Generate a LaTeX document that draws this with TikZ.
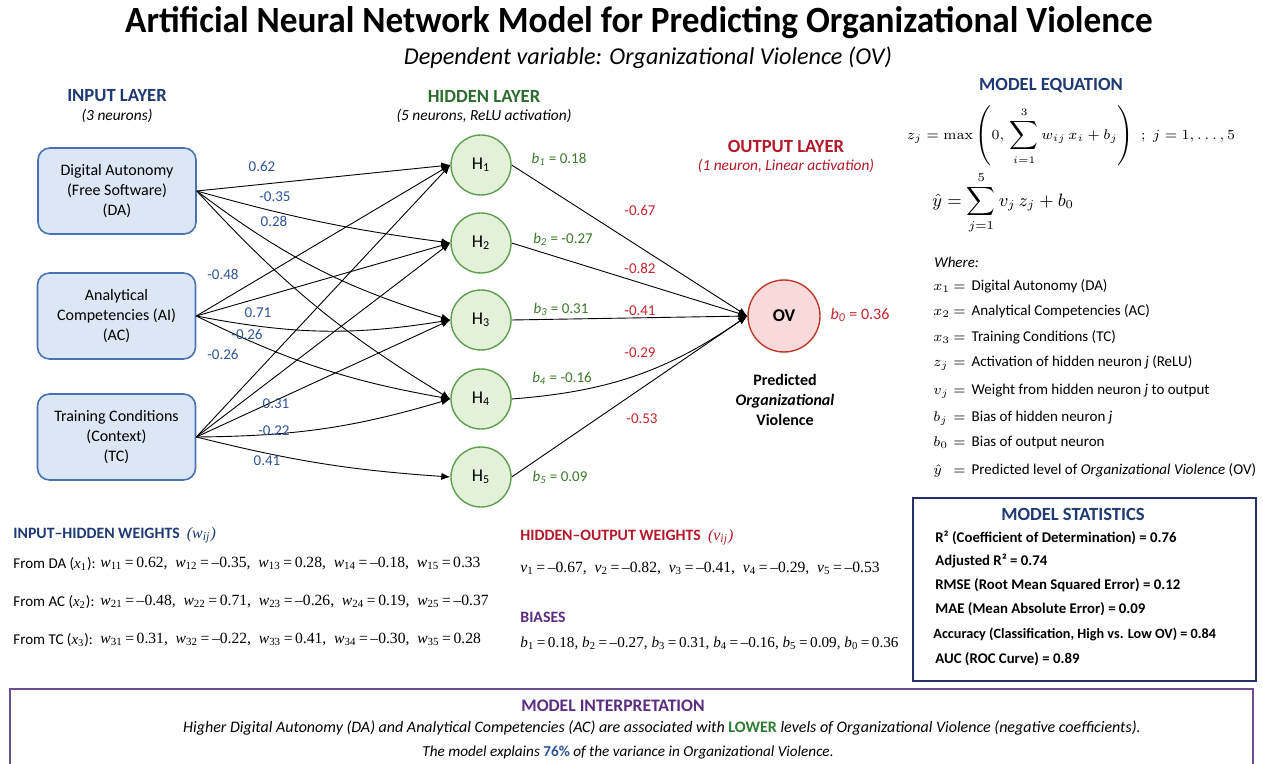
\documentclass[tikz,border=0pt]{standalone}
\usepackage[no-math]{fontspec}
\setmainfont{Carlito}
\newfontfamily\tms{Liberation Serif}
\usetikzlibrary{arrows.meta}

\definecolor{navy}{HTML}{1F3A73}
\definecolor{inborder}{HTML}{4A72B0}
\definecolor{infill}{HTML}{DCE7F5}
\definecolor{wblue}{HTML}{2F5597}
\definecolor{hgreen}{HTML}{2E6B2E}
\definecolor{hidborder}{HTML}{5E9E4E}
\definecolor{hidfill}{HTML}{E3F1DA}
\definecolor{bgreen}{HTML}{3C7A2C}
\definecolor{ored}{HTML}{B3192A}
\definecolor{outborder}{HTML}{C0392B}
\definecolor{outfill}{HTML}{F9D9D9}
\definecolor{vred}{HTML}{C4262E}
\definecolor{bpurple}{HTML}{5B2C82}
\definecolor{ipurple}{HTML}{6B4F8F}
\definecolor{statnavy}{HTML}{26306B}
\definecolor{lowgreen}{HTML}{2E7D32}

\newcommand\fsz[2]{\fontsize{#1}{#2}\selectfont}
% one line of the "Where:" legend
\newcommand\legend[2]{\makebox[10pt][l]{$#1$}$=$\hspace{3pt}#2}
% a serif "symbol_index = value" term for the weight listings
\newcommand\term[3]{{\itshape #1}\textsubscript{#2}\,=\,#3}

\tikzset{
  inbox/.style={draw=inborder, fill=infill, rounded corners=6pt, line width=0.8pt,
    minimum width=79pt, minimum height=43pt, align=center, inner sep=2pt,
    font=\fsz{8}{10}},
  hid/.style={circle, draw=hidborder, fill=hidfill, line width=0.7pt,
    minimum size=30pt, inner sep=0pt, font=\fsz{9}{10}},
  outn/.style={circle, draw=outborder, fill=outfill, line width=0.7pt,
    minimum size=36pt, inner sep=0pt, font=\fsz{9}{10}\bfseries},
  conn/.style={-{Latex[length=4.5pt,width=3.6pt]}, line width=0.45pt, black},
  wlab/.style={text=wblue, font=\fsz{7.5}{9}, inner sep=0pt},
  vlab/.style={text=vred, font=\fsz{7.5}{9}, inner sep=0pt},
  blab/.style={text=bgreen, font=\fsz{7.5}{9}, inner sep=0pt},
  head/.style={font=\fsz{9.3}{11}\bfseries, inner sep=0pt},
  shead/.style={font=\fsz{7.9}{10}\bfseries, inner sep=0pt, anchor=west},
  sub/.style={font=\fsz{7.7}{9}\itshape, inner sep=0pt},
  txt/.style={font=\fsz{7.5}{9}, inner sep=0pt, anchor=west},
  stat/.style={font=\fsz{7.4}{9}\bfseries, inner sep=0pt, anchor=west},
  eqn/.style={font=\tms\fsz{7.8}{9}, inner sep=0pt, anchor=west},
}

\begin{document}
\begin{tikzpicture}[x=0.5pt,y=-0.5pt]
\useasboundingbox (0,0) rectangle (1263,764);
\fill[white] (0,0) rectangle (1263,764);

% title
\node[inner sep=0pt, font=\fsz{18.5}{20}\bfseries] (title) at (639,23)
  {\scalebox{0.953}[1]{Artificial Neural Network Model for Predicting Organizational Violence}};
\node[inner sep=0pt, font=\fsz{12.1}{14}\itshape] (subtitle) at (648,58)
  {Dependent variable: Organizational Violence (OV)};

% layer headings
\node[head, text=navy] (inhead) at (117,96) {INPUT LAYER};
\node[sub] (insub) at (117,116) {(3 neurons)};
\node[head, text=hgreen] (hidhead) at (484,96) {HIDDEN LAYER};
\node[sub] (hidsub) at (484,116) {(5 neurons, ReLU activation)};
\node[head, text=ored] (outhead) at (786,146) {OUTPUT LAYER};
\node[sub, text=ored] (outsub) at (786,166) {(1 neuron, Linear activation)};

% input neurons
\node[inbox] (da) at (117,191) {Digital Autonomy\\(Free Software)\\(DA)};
\node[inbox] (ac) at (116.5,316) {Analytical\\Competencies (AI)\\(AC)};
\node[inbox] (tc) at (116.5,437) {Training Conditions\\(Context)\\(TC)};

% hidden neurons
\node[hid] (h1) at (481,165) {H\textsubscript{1}};
\node[hid] (h2) at (481,243) {H\textsubscript{2}};
\node[hid] (h3) at (481,320) {H\textsubscript{3}};
\node[hid] (h4) at (481,399) {H\textsubscript{4}};
\node[hid] (h5) at (481,477) {H\textsubscript{5}};

% output neuron
\node[outn] (ov) at (784,316) {OV};
\node[inner sep=0pt, align=center, font=\fsz{8}{9.8}\bfseries] (ovcap) at (785,400)
  {Predicted\\\itshape Organizational\\Violence};

% input -> hidden connections
\draw[conn] (da.east) -- (h1.west);
\draw[conn] (da.east) to[bend right=4] (h2.west);
\draw[conn] (da.east) to[bend right=10] (h3.west);
\draw[conn] (da.east) to[bend right=8] (h4.west);
\draw[conn] (ac.east) -- (h1.west);
\draw[conn] (ac.east) -- (h2.west);
\draw[conn] (ac.east) to[bend right=10] (h3.west);
\draw[conn] (ac.east) to[bend right=8] (h4.west);
\draw[conn] (tc.east) -- (h1.west);
\draw[conn] (tc.east) -- (h2.west);
\draw[conn] (tc.east) -- (h3.west);
\draw[conn] (tc.east) to[bend right=8] (h4.west);
\draw[conn] (tc.east) to[bend right=5] (h5.west);

% hidden -> output connections
\draw[conn] (h1.east) -- (ov.west);
\draw[conn] (h2.east) -- (ov.west);
\draw[conn] (h3.east) -- (ov.west);
\draw[conn] (h4.east) to[bend right=15] (ov.west);
\draw[conn] (h5.east) -- (ov.west);

% input -> hidden weight labels
\node[wlab] (w1) at (262,166) {0.62};
\node[wlab] (w2) at (275,197) {-0.35};
\node[wlab] (w3) at (274,221) {0.28};
\node[wlab] (w4) at (223,274) {-0.48};
\node[wlab] (w5) at (258,313) {0.71};
\node[wlab] (w6) at (247,334) {-0.26};
\node[wlab] (w7) at (223,354) {-0.26};
\node[wlab] (w8) at (276,404) {0.31};
\node[wlab] (w9) at (274,431) {-0.22};
\node[wlab] (w10) at (267,461) {0.41};

% hidden biases
\node[blab] (b1) at (559,159) {\itshape b\textsubscript{1}\upshape{} = 0.18};
\node[blab] (b2) at (563,239) {\itshape b\textsubscript{2}\upshape{} = -0.27};
\node[blab] (b3) at (561,309) {\itshape b\textsubscript{3}\upshape{} = 0.31};
\node[blab] (b4) at (562,378) {\itshape b\textsubscript{4}\upshape{} = -0.16};
\node[blab] (b5) at (560,477) {\itshape b\textsubscript{5}\upshape{} = 0.09};

% hidden -> output weight labels
\node[vlab] (v1) at (640,210) {-0.67};
\node[vlab] (v2) at (640,268) {-0.82};
\node[vlab] (v3) at (640,311) {-0.41};
\node[vlab] (v4) at (640,353) {-0.29};
\node[vlab] (v5) at (642,419) {-0.53};
\node[vlab, font=\fsz{8}{9}] (b0) at (860,315) {\itshape b\textsubscript{0}\upshape{} = 0.36};

% model equation
\node[head, text=navy] (eqhead) at (1051,86) {MODEL EQUATION};
\node[inner sep=0pt, font=\fsz{7.3}{10}] (eq1) at (1071,136)
  {$\displaystyle z_j=\max\left(0,\,\sum_{i=1}^{3} w_{ij}\,x_i+b_j\right)\;;\;j=1,\ldots,5$};
\node[inner sep=0pt, anchor=west, font=\fsz{8.8}{10}] (eq2) at (932,203)
  {$\displaystyle \hat{y}=\sum_{j=1}^{5} v_j\,z_j+b_0$};
\node[txt, font=\fsz{7.5}{9}\itshape] (where) at (934,262) {Where:};
\node[txt] (d1) at (933,286) {\legend{x_1}{Digital Autonomy (DA)}};
\node[txt] (d2) at (933,311) {\legend{x_2}{Analytical Competencies (AC)}};
\node[txt] (d3) at (933,337) {\legend{x_3}{Training Conditions (TC)}};
\node[txt] (d4) at (933,363) {\legend{z_j}{Activation of hidden neuron \textit{j} (ReLU)}};
\node[txt] (d5) at (933,391) {\legend{v_j}{Weight from hidden neuron \textit{j} to output}};
\node[txt] (d6) at (933,418) {\legend{b_j}{Bias of hidden neuron \textit{j}}};
\node[txt] (d7) at (933,443) {\legend{b_0}{Bias of output neuron}};
\node[txt] (d8) at (933,470) {\legend{\hat{y}}{Predicted level of \textit{Organizational Violence} (OV)}};

% input-hidden weights
\node[shead, text=navy] (ihhead) at (13,535) {INPUT–HIDDEN WEIGHTS \ {\mdseries\tms\itshape\fsz{8}{10}(w\textsubscript{ij})}};
\node[txt] (fda) at (13,564) {From DA ({\tms\itshape x}\textsubscript{\tms 1}):};
\node[txt] (fac) at (13,602) {From AC ({\tms\itshape x}\textsubscript{\tms 2}):};
\node[txt] (ftc) at (13,640) {From TC ({\tms\itshape x}\textsubscript{\tms 3}):};
\node[eqn] (rda) at (100,564) {\term{w}{11}{0.62}, \ \term{w}{12}{–0.35}, \ \term{w}{13}{0.28}, \ \term{w}{14}{–0.18}, \ \term{w}{15}{0.33}};
\node[eqn] (rac) at (100,602) {\term{w}{21}{–0.48}, \ \term{w}{22}{0.71}, \ \term{w}{23}{–0.26}, \ \term{w}{24}{0.19}, \ \term{w}{25}{–0.37}};
\node[eqn] (rtc) at (100,640) {\term{w}{31}{0.31}, \ \term{w}{32}{–0.22}, \ \term{w}{33}{0.41}, \ \term{w}{34}{–0.30}, \ \term{w}{35}{0.28}};

% hidden-output weights and biases
\node[shead, text=ored] (hohead) at (520,537) {HIDDEN–OUTPUT WEIGHTS \ {\mdseries\tms\itshape\fsz{8}{10}(v\textsubscript{ij})}};
\node[eqn] (rv) at (520,569) {\term{v}{1}{–0.67}, \ \term{v}{2}{–0.82}, \ \term{v}{3}{–0.41}, \ \term{v}{4}{–0.29}, \ \term{v}{5}{–0.53}};
\node[shead, text=bpurple] (bhead) at (520,617) {BIASES};
\node[eqn, font=\tms\fsz{7.6}{9}] (rb) at (520,643) {\term{b}{1}{0.18}, \term{b}{2}{–0.27}, \term{b}{3}{0.31}, \term{b}{4}{–0.16}, \term{b}{5}{0.09}, \term{b}{0}{0.36}};

% model statistics
\draw[statnavy, line width=0.7pt] (913,498) rectangle (1256,681);
\node[head, text=navy] (sthead) at (1073,514) {MODEL STATISTICS};
\node[stat] (s1) at (935,538) {R² (Coefficient of Determination) = 0.76};
\node[stat] (s2) at (935,561) {Adjusted R² = 0.74};
\node[stat] (s3) at (935,585) {RMSE (Root Mean Squared Error) = 0.12};
\node[stat] (s4) at (935,609) {MAE (Mean Absolute Error) = 0.09};
\node[stat, font=\fsz{7.1}{9}\bfseries] (s5) at (933,634) {Accuracy (Classification, High vs. Low OV) = 0.84};
\node[stat] (s6) at (935,659) {AUC (ROC Curve) = 0.89};

% model interpretation
\draw[ipurple, line width=0.9pt] (10,689) rectangle (1253,790);
\node[inner sep=0pt, text=bpurple, font=\fsz{8.8}{10}\bfseries] (inthead) at (613,706) {MODEL INTERPRETATION};
\node[inner sep=0pt, font=\fsz{8}{10}\itshape] (int1) at (662,728)
  {Higher Digital Autonomy (DA) and Analytical Competencies (AC) are associated with {\upshape\bfseries\color{lowgreen}LOWER} levels of Organizational Violence (negative coefficients).};
\node[inner sep=0pt, font=\fsz{7.6}{10}\itshape] (int2) at (628,753)
  {The model explains {\upshape\bfseries\color{wblue}76\%} of the variance in Organizational Violence.};
\end{tikzpicture}
\end{document}
